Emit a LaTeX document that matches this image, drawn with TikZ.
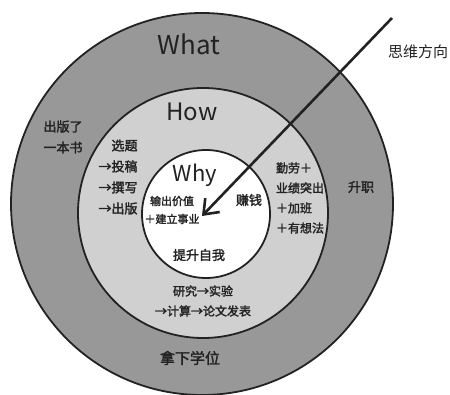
\documentclass[tikz,border=0pt]{standalone}
\usepackage{fontspec}
\usetikzlibrary{arrows.meta}
\newfontfamily\cjk[FakeBold=2]{Noto Sans CJK SC}
\newfontfamily\cjklight{Noto Sans CJK SC}
\definecolor{outerfill}{HTML}{989898}
\definecolor{midfill}{HTML}{D0D0D0}
\definecolor{ink}{HTML}{222222}
\tikzset{
  ring/.style={circle, draw=ink, line width=1.8pt, inner sep=0pt},
  lbl/.style={font=\cjk\fontsize{13}{21}\selectfont, text=ink, align=center, inner sep=0pt},
  big/.style={font=\cjklight\fontsize{#1}{#1}\selectfont, text=ink, inner sep=0pt},
  think/.style={line width=2.6pt, draw=ink, -{Straight Barb[length=13pt, width=20pt, line width=2.6pt]}}
}
\begin{document}
\begin{tikzpicture}[x=1pt, y=-1pt]
\useasboundingbox (0,0) rectangle (450,395);
\fill[white] (0,0) rectangle (450,395);
\node[ring, fill=outerfill, minimum size=382pt] (outer) at (202,204) {};
\node[ring, fill=midfill, minimum size=250pt] (mid) at (203,213) {};
\node[ring, fill=white, minimum size=128pt] (inner) at (206,214) {};
% labels
\node[big=26] (what) at (189,44) {What};
\node[big=24] (how) at (192,112) {How};
\node[big=22] (why) at (195,175) {Why};
\node[lbl, font=\cjklight\fontsize{15}{15}\selectfont] (dir) at (418,52) {思维方向};
\node[lbl] (book) at (63,137) {出版了\\一本书};
\node[lbl, align=left] (pub) at (118,177) {\quad 选题\\→投稿\\→撰写\\→出版};
\node[lbl, font=\cjk\fontsize{11}{18}\selectfont] (value) at (172,210) {输出价值\\＋建立事业};
\node[lbl] (money) at (249,200) {赚钱};
\node[lbl] (self) at (199,255) {提升自我};
\node[lbl, align=left, font=\cjk\fontsize{12}{20}\selectfont] (work) at (300,198) {勤劳＋\\业绩突出\\＋加班\\＋有想法};
\node[lbl] (promo) at (361,187) {升职};
\node[lbl, font=\cjk\fontsize{12}{20}\selectfont] (res) at (203,301) {研究→实验\\→计算→论文发表};
\node[lbl, font=\cjk\fontsize{15}{15}\selectfont] (deg) at (190,358) {拿下学位};
% thinking direction
\coordinate (s) at (392,18);
\coordinate (t) at (202,216);
\draw[think] (s) -- (t);
\end{tikzpicture}
\end{document}
